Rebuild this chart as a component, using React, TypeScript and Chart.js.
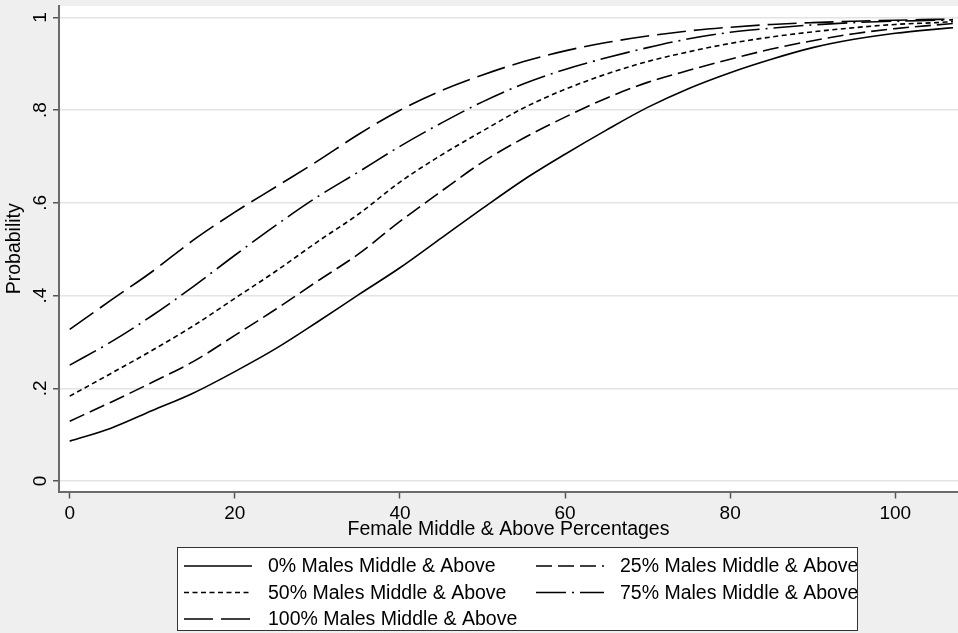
import React, { useEffect, useRef } from "react";
import { Chart, registerables } from "chart.js";

Chart.register(...registerables);

// ---- data ----
const femalePct = [0, 5, 10, 15, 20, 25, 30, 35, 40, 45, 50, 55, 60, 65, 70, 75, 80, 85, 90, 95, 100, 105, 107];

const males0 = [0.086, 0.114, 0.152, 0.190, 0.236, 0.286, 0.343, 0.402, 0.460, 0.524, 0.588, 0.650, 0.705, 0.757, 0.806, 0.847, 0.881, 0.910, 0.935, 0.953, 0.966, 0.975, 0.978];
const males25 = [0.129, 0.170, 0.213, 0.258, 0.314, 0.371, 0.431, 0.490, 0.560, 0.625, 0.688, 0.740, 0.785, 0.826, 0.860, 0.886, 0.910, 0.932, 0.950, 0.965, 0.976, 0.984, 0.987];
const males50 = [0.183, 0.232, 0.282, 0.335, 0.394, 0.453, 0.516, 0.576, 0.645, 0.703, 0.755, 0.805, 0.845, 0.878, 0.905, 0.926, 0.944, 0.958, 0.969, 0.978, 0.985, 0.989, 0.991];
const males75 = [0.250, 0.300, 0.357, 0.420, 0.487, 0.552, 0.613, 0.667, 0.722, 0.772, 0.818, 0.857, 0.888, 0.913, 0.935, 0.954, 0.968, 0.977, 0.984, 0.989, 0.992, 0.994, 0.995];
const males100 = [0.327, 0.390, 0.452, 0.520, 0.580, 0.635, 0.690, 0.748, 0.800, 0.842, 0.876, 0.905, 0.928, 0.946, 0.960, 0.971, 0.979, 0.985, 0.989, 0.992, 0.994, 0.996, 0.996];

const seriesLabels = [
  "0% Males Middle & Above",
  "25% Males Middle & Above",
  "50% Males Middle & Above",
  "75% Males Middle & Above",
  "100% Males Middle & Above",
];
const seriesValues = [males0, males25, males50, males75, males100];
const seriesDash = [[], [16, 6], [5, 3.5], [30, 6, 2, 6], [29, 8]];

const xTickValues = [0, 20, 40, 60, 80, 100];
const xTickLabels = ["0", "20", "40", "60", "80", "100"];
const yTickValues = [0, 0.2, 0.4, 0.6, 0.8, 1];
const yTickLabels = ["0", ".2", ".4", ".6", ".8", "1"];

const xTitle = "Female Middle & Above Percentages";
const yTitle = "Probability";

const FONT = "'Liberation Sans', Arial, Helvetica, sans-serif";
const BG = "#efefef";

const backgroundPlugin = {
  id: "bg",
  beforeDraw(chart: any) {
    const { ctx, chartArea } = chart;
    ctx.save();
    ctx.fillStyle = BG;
    ctx.fillRect(0, 0, chart.width, chart.height);
    ctx.fillStyle = "#ffffff";
    ctx.fillRect(chartArea.left, chartArea.top, chartArea.right - chartArea.left, chartArea.bottom - chartArea.top);
    ctx.restore();
  },
};

const legendPlugin = {
  id: "boxLegend",
  afterDraw(chart: any) {
    const { ctx } = chart;
    const boxL = 177.5, boxT = 547.5, boxW = 680, boxH = 83;
    ctx.save();
    ctx.fillStyle = "#ffffff";
    ctx.fillRect(boxL, boxT, boxW, boxH);
    const colSample = [184, 536];
    const colText = [268, 620];
    const sampleLen = 68;
    chart.data.datasets.forEach((ds: any, i: number) => {
      const col = i % 2;
      const row = Math.floor(i / 2);
      const y = 566 + row * 26.5;
      ctx.beginPath();
      ctx.strokeStyle = "#000";
      ctx.lineWidth = 1.6;
      ctx.setLineDash(ds.borderDash || []);
      ctx.moveTo(colSample[col], y);
      ctx.lineTo(colSample[col] + sampleLen, y);
      ctx.stroke();
      ctx.setLineDash([]);
      ctx.fillStyle = "#000";
      ctx.font = `19.5px ${FONT}`;
      ctx.textBaseline = "middle";
      ctx.textAlign = "left";
      ctx.fillText(ds.label, colText[col], y + 1);
    });
    ctx.strokeStyle = "#333";
    ctx.lineWidth = 1;
    ctx.setLineDash([]);
    ctx.strokeRect(boxL, boxT, boxW, boxH);
    ctx.restore();
  },
};

export default function App() {
  const ref = useRef<HTMLCanvasElement | null>(null);

  useEffect(() => {
    if (!ref.current) return;
    const datasets = seriesValues.map((vals, i) => ({
      label: seriesLabels[i],
      data: femalePct.map((x, j) => ({ x, y: vals[j] })),
      borderColor: "#000",
      backgroundColor: "#000",
      borderWidth: 1.6,
      borderDash: seriesDash[i],
      pointRadius: 0,
      fill: false,
      cubicInterpolationMode: "monotone" as const,
    }));

    const chart = new Chart(ref.current, {
      type: "line",
      data: { datasets },
      plugins: [backgroundPlugin, legendPlugin],
      options: {
        animation: false,
        responsive: false,
        maintainAspectRatio: false,
        layout: { padding: { top: 6, right: 0, bottom: 0, left: 0 } },
        plugins: { legend: { display: false }, tooltip: { enabled: false } },
        scales: {
          x: {
            type: "linear",
            min: -1.3,
            max: 107.6,
            afterBuildTicks: (s: any) => {
              s.ticks = xTickValues.map((v) => ({ value: v }));
            },
            afterFit: (s: any) => {
              s.height = 141.5;
              s.paddingLeft = 0;
              s.paddingRight = 0;
            },
            grid: { drawOnChartArea: false, drawTicks: true, tickLength: 7, tickColor: "#555", tickWidth: 1.5 },
            border: { display: true, color: "#6a6a6a", width: 2 },
            ticks: {
              color: "#000",
              font: { family: FONT, size: 19 },
              padding: 4,
              maxRotation: 0,
              autoSkip: false,
              callback: (v: any) => xTickLabels[xTickValues.indexOf(Number(v))] ?? "",
            },
            title: {
              display: true,
              text: xTitle,
              color: "#000",
              font: { family: FONT, size: 19.5 },
              padding: { top: 0, bottom: 92 },
            },
          },
          y: {
            type: "linear",
            min: -0.0227,
            max: 1.0248,
            afterBuildTicks: (s: any) => {
              s.ticks = yTickValues.map((v) => ({ value: v }));
            },
            afterFit: (s: any) => {
              s.width = 59;
              s.paddingTop = 0;
              s.paddingBottom = 0;
            },
            grid: { color: "#e4e4e4", lineWidth: 1.5, drawTicks: true, tickLength: 6, tickColor: "#555", tickWidth: 1.5 },
            border: { display: true, color: "#6a6a6a", width: 2 },
            ticks: {
              color: "#000",
              font: { family: FONT, size: 19 },
              padding: 4,
              minRotation: 90,
              maxRotation: 90,
              crossAlign: "center",
              autoSkip: false,
              callback: (v: any) => {
                const idx = yTickValues.findIndex((t) => Math.abs(t - Number(v)) < 1e-9);
                return idx >= 0 ? yTickLabels[idx] : "";
              },
            },
            title: {
              display: true,
              text: yTitle,
              color: "#000",
              font: { family: FONT, size: 19.5 },
              padding: { top: 3, bottom: 0 },
            },
          },
        },
      } as any,
    });
    return () => chart.destroy();
  }, []);

  return (
    <div style={{ position: "fixed", left: 0, top: 0, width: 958, height: 633, background: BG }}>
      <canvas ref={ref} width={958} height={633} style={{ display: "block", width: 958, height: 633 }} />
    </div>
  );
}
